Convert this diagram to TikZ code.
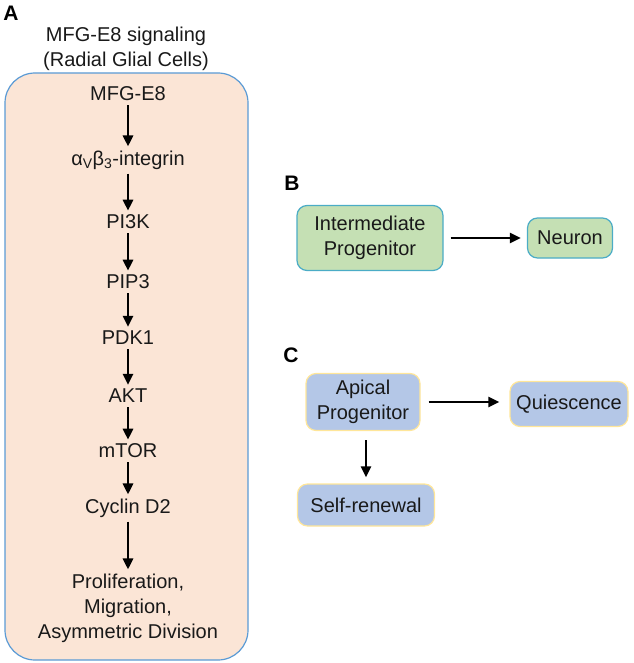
\documentclass[tikz,border=0pt]{standalone}
\usepackage{fontspec}
\setmainfont{Liberation Sans}
\usetikzlibrary{arrows.meta}
\definecolor{peach}{HTML}{FBE5D6}
\definecolor{panelblue}{HTML}{5B9BD5}
\definecolor{greenfill}{HTML}{C5E0B4}
\definecolor{greenline}{HTML}{4BACC6}
\definecolor{bluefill}{HTML}{B4C7E7}
\definecolor{blueline}{HTML}{FFE699}
\tikzstyle{item}=[font=\fontsize{20}{25}\selectfont, text=black!90, inner sep=4pt, align=center]
\tikzstyle{letter}=[font=\fontsize{21}{25}\selectfont\bfseries]
\tikzstyle{gbox}=[item, draw=greenline, fill=greenfill, line width=1.2pt, rounded corners=10pt]
\tikzstyle{bbox}=[item, draw=blueline, fill=bluefill, line width=1.2pt, rounded corners=10pt]
\tikzstyle{arr}=[-{Triangle[length=11pt,width=10pt]}, line width=2.6pt]

\begin{document}
\begin{tikzpicture}[x=1pt, y=-1pt]
\useasboundingbox (0,0) rectangle (633,663);

% panel A
\node[letter] (la) at (11, 13) {A};
\node[item] (title) at (126, 49) {MFG-E8 signaling\\(Radial Glial Cells)};
\draw[draw=panelblue, fill=peach, line width=1.2pt, rounded corners=30pt] (5,73) rectangle (248,660);

\node[item] (a1) at (128, 94) {MFG-E8};
\node[item] (a2) at (128, 160) {α\textsubscript{V}β\textsubscript{3}-integrin};
\node[item] (a3) at (128, 222) {PI3K};
\node[item] (a4) at (128, 282) {PIP3};
\node[item] (a5) at (128, 338) {PDK1};
\node[item] (a6) at (128, 396) {AKT};
\node[item] (a7) at (128, 451) {mTOR};
\node[item] (a8) at (128, 508) {Cyclin D2};
\node[item] (a9) at (128, 608) {Proliferation,\\Migration,\\Asymmetric Division};

\draw[arr] (a1) -- (a2);
\draw[arr] (a2) -- (a3);
\draw[arr] (a3) -- (a4);
\draw[arr] (a4) -- (a5);
\draw[arr] (a5) -- (a6);
\draw[arr] (a6) -- (a7);
\draw[arr] (a7) -- (a8);
\draw[arr] (a8) -- (a9);

% panel B
\node[letter] (lb) at (292, 183) {B};
\node[gbox, minimum width=146pt, minimum height=65pt] (inter) at (370, 238) {Intermediate\\Progenitor};
\node[gbox, minimum width=85pt, minimum height=40pt] (neuron) at (570, 238) {Neuron};
\draw[arr] ([xshift=7pt]inter.east) -- ([xshift=-6pt]neuron.west);

% panel C
\node[letter] (lc) at (291, 355) {C};
\node[bbox, minimum width=114pt, minimum height=57pt] (apical) at (363, 402) {Apical\\Progenitor};
\node[bbox, minimum width=118pt, minimum height=45pt] (quies) at (569, 404) {Quiescence};
\node[bbox, minimum width=137pt, minimum height=42pt] (self) at (366, 505) {Self-renewal};
\coordinate (c0) at ([xshift=8pt]apical.east);
\draw[arr] (c0) -- ([xshift=-10pt]c0 -| quies.west);
\coordinate (c1) at ([yshift=-9pt]apical.south -| self.north);
\draw[arr] (c1) -- ([yshift=6pt]self.north);

\end{tikzpicture}
\end{document}
